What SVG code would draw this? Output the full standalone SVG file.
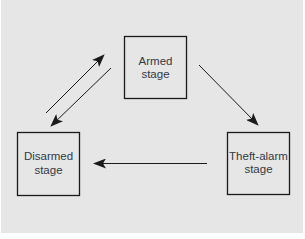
<svg xmlns="http://www.w3.org/2000/svg" width="305" height="239" viewBox="0 0 305 239">
<style>
.box{fill:none;stroke:#1a1a1a;stroke-width:1.3}
.lbl{font-family:"Liberation Sans",Arial,sans-serif;font-size:11.5px;fill:#333a44;text-anchor:middle}
.conn line{stroke:#1a1a1a;stroke-width:1;marker-end:url(#ah)}
</style>
<defs>
<marker id="ah" viewBox="0 0 13 10" refX="12" refY="5" markerWidth="13" markerHeight="10" markerUnits="userSpaceOnUse" orient="auto">
<path d="M0,0 L13,5 L0,10 L3,5 Z" fill="#1a1a1a"/>
</marker>
</defs>
<rect x="0" y="0" width="305" height="239" fill="#ffffff"/>
<rect x="1" y="0" width="302" height="233" fill="#e6e6e6"/>
<g id="armed">
<rect class="box" x="124.5" y="36.5" width="62" height="62"/>
<text class="lbl" x="155.5" y="64.5">Armed</text>
<text class="lbl" x="155.5" y="77.5">stage</text>
</g>
<g id="disarmed">
<rect class="box" x="17.5" y="132.5" width="62" height="63"/>
<text class="lbl" x="48.5" y="160">Disarmed</text>
<text class="lbl" x="48.5" y="174">stage</text>
</g>
<g id="theft">
<rect class="box" x="227.5" y="132.5" width="62" height="62"/>
<text class="lbl" x="258.5" y="160">Theft-alarm</text>
<text class="lbl" x="258.5" y="173">stage</text>
</g>
<g id="connectors" class="conn">
<line x1="46" y1="113" x2="104" y2="55"/>
<line x1="111" y1="68" x2="51" y2="126"/>
<line x1="199" y1="65" x2="258" y2="125"/>
<line x1="207" y1="163.5" x2="94" y2="163.5"/>
</g>
</svg>
